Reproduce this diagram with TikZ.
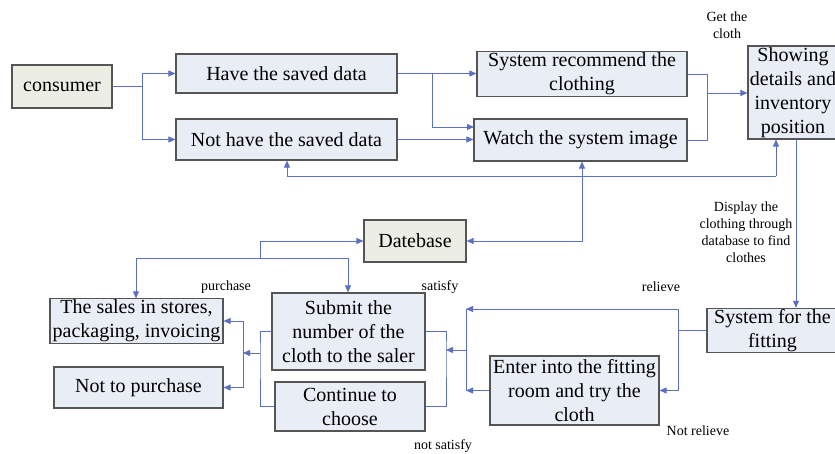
\documentclass[tikz,border=0pt]{standalone}
\usepackage{fontspec}
\setmainfont{Liberation Serif}
\usetikzlibrary{arrows.meta,calc}
\definecolor{boxblue}{HTML}{E9EDF6}
\definecolor{boxgreen}{HTML}{ECEEE3}
\definecolor{linkblue}{HTML}{5B70C2}
\definecolor{edgegrey}{HTML}{555555}
\tikzset{
  box/.style={draw=edgegrey, line width=1.1pt, fill=boxblue, align=center, inner sep=1pt,
    font=\fontsize{20}{24}\selectfont},
  gbox/.style={box, fill=boxgreen},
  link/.style={draw=linkblue, line width=0.8pt},
  arr/.style={link, -{Triangle[length=7pt,width=6pt]}},
  lbl/.style={align=center, inner sep=0pt, font=\fontsize{14}{17}\selectfont}
}
\begin{document}
\begin{tikzpicture}[x=1pt,y=-1pt]
\useasboundingbox[fill=white] (0,0) rectangle (835,454);
% nodes
\node[gbox, minimum width=100pt, minimum height=43pt] (consumer) at (62,86.5) {consumer};
\node[box, minimum width=221pt, minimum height=39pt] (have) at (286.5,73.5) {Have the saved data};
\node[box, minimum width=221pt, minimum height=41pt] (nothave) at (286.5,139.5) {Not have the saved data};
\node[box, minimum width=210pt, minimum height=44pt] (recommend) at (582,74) {System recommend the\\clothing};
\node[box, minimum width=213pt, minimum height=42pt] (watch) at (580.5,140) {Watch the system image};
\node[box, minimum width=90pt, minimum height=93pt] (showing) at (793,92.5) {Showing\\details and\\inventory\\position};
\node[gbox, minimum width=102pt, minimum height=42pt] (database) at (415,241) {Datebase};
\node[box, minimum width=173pt, minimum height=41pt] (sales) at (136.5,321) {The sales in stores,\\packaging, invoicing};
\node[box, minimum width=169pt, minimum height=41pt] (notpurchase) at (138.5,387.5) {Not to purchase};
\node[box, minimum width=153pt, minimum height=77pt] (submit) at (348.5,331.5) {Submit the\\number of the\\cloth to the saler};
\node[box, minimum width=150pt, minimum height=49pt] (continue) at (350,406.5) {Continue to\\choose};
\node[box, minimum width=131pt, minimum height=43pt] (fitting) at (772.5,330.5) {System for the\\fitting};
\node[box, minimum width=169pt, minimum height=69pt] (enter) at (574.5,390.5) {Enter into the fitting\\room and try the\\cloth};
% labels
\node[lbl] (lgetcloth) at (727,25) {Get the\\cloth};
\node[lbl] (ldisplay) at (746,232) {Display the\\clothing through\\database to find\\clothes};
\node[lbl] (lpurchase) at (226,287) {purchase};
\node[lbl] (lsatisfy) at (440,287) {satisfy};
\node[lbl] (lrelieve) at (661,287) {relieve};
\node[lbl] (lnotsatisfy) at (443,446) {not satisfy};
\node[lbl] (lnotrelieve) at (698,431) {Not relieve};
% junction coordinates
\coordinate (j1) at (142,86.5);
\coordinate (j2) at (432,73.5);
\coordinate (j2b) at (474,127);
\coordinate (j3) at (707,93);
\coordinate (b1) at (287,176);
\coordinate (b2) at (582,176);
\coordinate (b3) at (776,176);
\coordinate (sx) at (796,139);
\coordinate (d1) at (260,258);
\coordinate (d2) at (136,258);
\coordinate (d3) at (348,258);
\coordinate (f1) at (678,309);
\coordinate (f2) at (678,390.5);
\coordinate (f3) at (466,309);
\coordinate (f4) at (466,390.5);
\coordinate (f5) at (466,350);
\coordinate (g) at (446,350);
\coordinate (h) at (260,353);
\coordinate (k) at (243,353);
\coordinate (k1) at (243,321);
\coordinate (k2) at (243,387.5);
% connectors
\draw[link] (consumer.east) -- (j1);
\draw[arr] (j1) |- (have.west);
\draw[arr] (j1) |- (nothave.west);
\draw[arr] (have.east) -- (have.east -| recommend.west);
\draw[arr] (j2) |- (j2b);
\draw[arr] (nothave.east) -- (nothave.east -| watch.west);
\draw[link] (recommend.east) -| (j3);
\draw[link] (watch.east) -| (j3);
\draw[arr] (j3) -- (j3 -| showing.west);
\draw[link] (b1) -- (b3);
\draw[arr] (b1) -- (b1 |- nothave.south);
\draw[arr] (b3) -- (b3 |- showing.south);
\draw[arr] (b2) -- (b2 |- watch.south);
\draw[arr] (b2) |- (database.east);
\draw[arr] (sx) -- (sx |- fitting.north);
\draw[arr] (d1) |- (database.west);
\draw[link] (d2) -- (d3);
\draw[arr] (d2) -- (d2 |- sales.north);
\draw[arr] (d3) -- (d3 |- submit.north);
\draw[link] (fitting.west) -- (fitting.west -| f1);
\draw[link] (f1) -- (f2);
\draw[arr] (f1) -- (f3);
\draw[arr] (f2) -- (enter.east);
\draw[arr] (enter.west) -- (f4);
\draw[link] (f3) -- (f4);
\draw[arr] (f5) -- (g);
\draw[link] (submit.east) -| (g) |- (continue.east);
\draw[link] (submit.west) -| (h) |- (continue.west);
\draw[arr] (h) -- (k);
\draw[link] (k1) -- (k2);
\draw[arr] (k1) -- (sales.east);
\draw[arr] (k2) -- (notpurchase.east);
\end{tikzpicture}
\end{document}
